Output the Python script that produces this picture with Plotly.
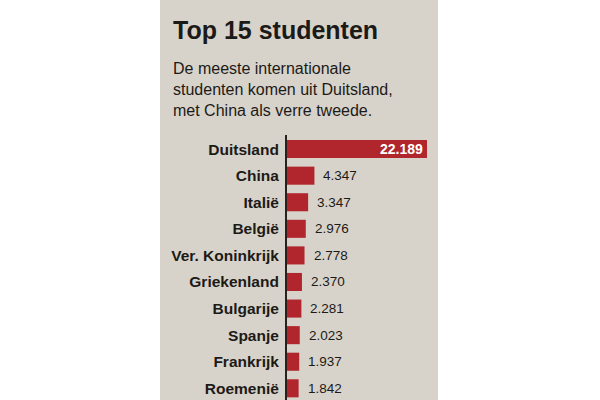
import plotly.graph_objects as go

countries = ["Duitsland", "China", "Italië", "België", "Ver. Koninkrijk",
             "Griekenland", "Bulgarije", "Spanje", "Frankrijk", "Roemenië"]
students = [22189, 4347, 3347, 2976, 2778, 2370, 2281, 2023, 1937, 1842]

title_text = "Top 15 studenten"
subtitle_text = "De meeste internationale<br>studenten komen uit Duitsland,<br>met China als verre tweede."

BEIGE = "#d7d3ca"
RED = "#b1262c"
INK = "#1c1a17"
FONT = "Liberation Sans, Arial, sans-serif"

W, H = 600, 400
L, R, T, B = 287, 162, 135, 0
pw, ph = W - L - R, H - T - B

def px2x(p):
    return (p - L) / pw

def px2y(p):
    return (H - B - p) / ph

def fmt(v):
    return f"{v:,}".replace(",", ".")

fig = go.Figure()
fig.add_trace(go.Bar(
    x=students, y=countries, orientation="h",
    marker=dict(color=RED, line=dict(width=0)),
    width=0.68, hoverinfo="skip",
))

annotations = []
for i, (c, v) in enumerate(zip(countries, students)):
    if i == 0:
        annotations.append(dict(x=v, y=c, xref="x", yref="y", text="<b>" + fmt(v) + "</b>",
                                showarrow=False, xanchor="right", xshift=-2,
                                font=dict(family=FONT, size=14, color="white")))
    else:
        annotations.append(dict(x=v, y=c, xref="x", yref="y", text=fmt(v),
                                showarrow=False, xanchor="left", xshift=7,
                                font=dict(family=FONT, size=13.5, color=INK)))

annotations.append(dict(x=px2x(171), y=px2y(30), xref="paper", yref="paper",
                        text="<b>" + title_text + "</b>", showarrow=False,
                        xanchor="left", yanchor="middle", align="left",
                        font=dict(family=FONT, size=25, color=INK)))
annotations.append(dict(x=px2x(171), y=px2y(89), xref="paper", yref="paper",
                        text=subtitle_text, showarrow=False,
                        xanchor="left", yanchor="middle", align="left",
                        font=dict(family=FONT, size=16, color=INK)))

fig.update_layout(
    width=W, height=H,
    margin=dict(l=L, r=R, t=T, b=B, pad=0),
    paper_bgcolor="white",
    plot_bgcolor=BEIGE,
    showlegend=False,
    annotations=annotations,
    shapes=[dict(type="rect", xref="paper", yref="paper",
                 x0=px2x(160), x1=px2x(438), y0=-0.02, y1=px2y(-5),
                 fillcolor=BEIGE, line=dict(width=0), layer="below")],
    xaxis=dict(range=[0, 151 * 22189 / 140], visible=False, fixedrange=True),
    yaxis=dict(
        categoryorder="array", categoryarray=countries,
        range=[9.44, -0.53],
        tickmode="array", tickvals=countries,
        ticktext=["<b>" + c + "</b>" for c in countries],
        tickfont=dict(family=FONT, size=15.5, color=INK),
        showline=True, linecolor="#2a201e", linewidth=2,
        showgrid=False, zeroline=False, ticks="", ticklabelstandoff=3,
    ),
)

fig.write_html("out.html")
